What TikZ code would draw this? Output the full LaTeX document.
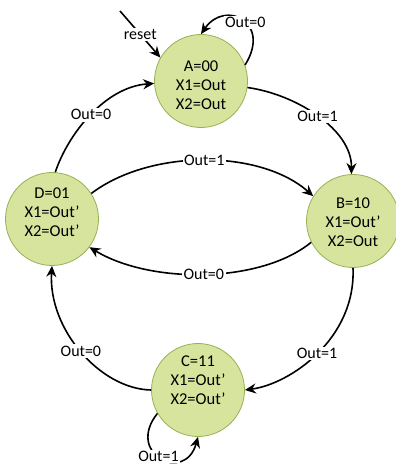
\documentclass[tikz,border=0pt]{standalone}
\usepackage{fontspec}
\setmainfont{Carlito}
\usetikzlibrary{arrows.meta}
\definecolor{stfill}{RGB}{214,228,158}
\definecolor{stdraw}{RGB}{150,178,84}
\tikzset{
  stcircle/.style={circle,fill=stfill,draw=stdraw,line width=0.8pt,minimum size=93pt,inner sep=0pt},
  sttext/.style={align=center,font=\fontsize{16.5}{19}\selectfont,inner sep=0pt},
  conn/.style={line width=1.6pt,-{Stealth[length=11pt,width=10pt]}},
  lbl/.style={font=\fontsize{16}{19}\selectfont,fill=white,inner sep=1.5pt}
}
\begin{document}
\begin{tikzpicture}[x=1pt,y=1pt]
\useasboundingbox (0,0) rectangle (396,469);
\node[stcircle] (A) at (201,388) {};
\node[stcircle] (B) at (353,248) {};
\node[stcircle] (C) at (198,79) {};
\node[stcircle] (D) at (52,250) {};
\node[sttext] (tA) at (201,384) {A=00\\X1=Out\\X2=Out};
\node[sttext] (tB) at (353,247) {B=10\\X1=Out’\\X2=Out};
\node[sttext] (tC) at (198,89) {C=11\\X1=Out’\\X2=Out’};
\node[sttext] (tD) at (52,257) {D=01\\X1=Out’\\X2=Out’};
\coordinate (rs) at (120,458);
\draw[conn] (rs) -- node[lbl,pos=0.5] {reset} (A.150);
\draw[conn] (A.20) .. controls (272,447) and (225,470) .. node[lbl,pos=0.45] {Out=0} (A.90);
\draw[conn] (A.-8) .. controls (295,375) and (352,340) .. node[lbl,pos=0.5] {Out=1} (B.92);
\draw[conn] (D.86) .. controls (68,335) and (105,382) .. node[lbl,pos=0.5] {Out=0} (A.183);
\draw[conn] (D.33) .. controls (150,320) and (260,320) .. node[lbl,pos=0.5] {Out=1} (B.148);
\draw[conn] (B.207) .. controls (260,185) and (150,185) .. node[lbl,pos=0.5] {Out=0} (D.-37);
\draw[conn] (B.-90) .. controls (356,130) and (290,85) .. node[lbl,pos=0.5] {Out=1} (C.0);
\draw[conn] (C.180) .. controls (100,80) and (48,140) .. node[lbl,pos=0.5] {Out=0} (D.-90);
\draw[conn] (C.210) .. controls (125,15) and (185,-15) .. node[lbl,pos=0.47] {Out=1} (C.-90);
\end{tikzpicture}
\end{document}
